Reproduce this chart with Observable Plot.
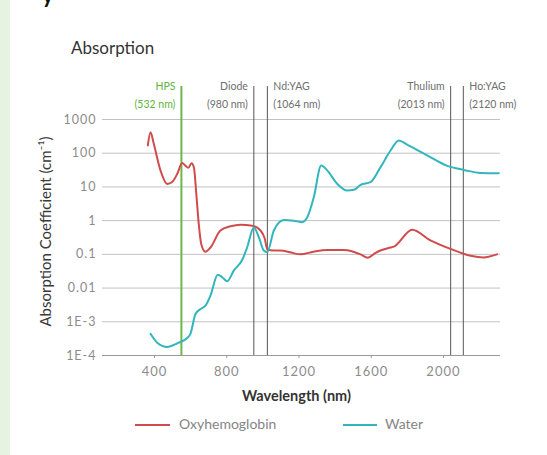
<!DOCTYPE html>
<html><head><meta charset="utf-8">
<script src="https://cdn.jsdelivr.net/npm/d3@7"></script>
<script src="https://cdn.jsdelivr.net/npm/@observablehq/plot@0.6"></script>
<style>
body{margin:0;background:#fff;font-family:Lato,"Open Sans",sans-serif;}
#wrap{position:relative;width:547px;height:455px;overflow:hidden;background:#fff;}
#strip{position:absolute;left:0;top:0;width:10px;height:455px;background:#e7f3e1;}
#cut{position:absolute;left:42px;top:-19px;font:bold 22px Lato,sans-serif;color:#111;}
#title{position:absolute;left:71px;top:37px;font-size:17px;color:#333;}
#chart{position:absolute;left:0;top:0;}
#chart svg g[aria-label="x-axis tick label"] text,
#chart svg g[aria-label="y-axis tick label"] text{letter-spacing:1px;}
.leg{position:absolute;top:415px;font-size:14px;color:#858585;line-height:18px;}
.sw{position:absolute;top:424px;height:2px;}
</style></head>
<body>
<div id="wrap">
  <div id="strip"></div>
  <div id="cut">y</div>
  <div id="title">Absorption</div>
  <div id="chart"></div>
  <div class="sw" id="sw0" style="left:135px;width:35px;"></div>
  <div class="leg" id="lg0" style="left:179px;"></div>
  <div class="sw" id="sw1" style="left:343px;width:34px;"></div>
  <div class="leg" id="lg1" style="left:385px;"></div>
</div>
<script>
// ---- data ----
const seriesNames = ["Oxyhemoglobin", "Water"];
const seriesColors = ["#d14b4d", "#31b6bc"];

const oxyNm  = [363, 378, 396, 433, 470, 498, 526, 553, 572, 587, 605, 618, 633, 645, 659, 682, 710, 765, 821, 876, 941, 987, 1010, 1025, 1060, 1098, 1150, 1208, 1280, 1356, 1448, 1541, 1581, 1624, 1651, 1707, 1725, 1827, 1928, 2039, 2150, 2223, 2297];
const oxyVal = [170, 420, 190, 31, 12.3, 14, 24.5, 51, 42, 37, 50, 38, 4.9, 0.8, 0.2, 0.12, 0.16, 0.51, 0.68, 0.76, 0.71, 0.51, 0.3, 0.14, 0.13, 0.13, 0.115, 0.1, 0.12, 0.135, 0.135, 0.1, 0.079, 0.11, 0.13, 0.16, 0.17, 0.54, 0.26, 0.145, 0.091, 0.081, 0.1];

const waterNm  = [378, 415, 470, 526, 581, 599, 627, 655, 682, 710, 750, 775, 803, 839, 886, 913, 950, 978, 1005, 1024, 1061, 1116, 1171, 1218, 1246, 1282, 1323, 1356, 1412, 1467, 1504, 1541, 1596, 1651, 1707, 1753, 1799, 1910, 2021, 2113, 2205, 2307];
const waterVal = [4.4e-4, 2.4e-4, 1.8e-4, 2.3e-4, 3.3e-4, 4.4e-4, 1.7e-3, 2.4e-3, 3.0e-3, 6e-3, 0.025, 0.021, 0.016, 0.033, 0.069, 0.16, 0.63, 0.32, 0.13, 0.115, 0.51, 1.05, 1.0, 0.9, 1.26, 4.9, 43, 31, 12.3, 7.8, 8.2, 11.5, 13.8, 38, 120, 240, 180, 86, 42, 32, 26, 25.6];

const laserNames = ["HPS", "Diode", "Nd:YAG", "Thulium", "Ho:YAG"];
const laserLabels = ["(532 nm)", "(980 nm)", "(1064 nm)", "(2013 nm)", "(2120 nm)"];
const laserDrawnNm = [549, 950, 1025, 2040, 2110];
const laserSide = ["left", "left", "right", "left", "right"];

const xTicks = [400, 800, 1200, 1600, 2000];
const yTicks = [1000, 100, 10, 1, 0.1, 0.01, 1e-3, 1e-4];
const yTickLabels = ["1000", "100", "10", "1", "0.1", "0.01", "1E-3", "1E-4"];

// ---- build ----
const oxy = oxyNm.map((x, i) => ({x, y: oxyVal[i]}));
const water = waterNm.map((x, i) => ({x, y: waterVal[i]}));
const idx = laserNames.map((_, i) => i);
const leftIdx = idx.filter(i => laserSide[i] === "left");
const rightIdx = idx.filter(i => laserSide[i] === "right");
const labelFill = i => i === 0 ? "#62b340" : "#6e6e6e";

const labelMarks = [];
for (const [set, anchor, dx] of [[leftIdx, "end", -6], [rightIdx, "start", 6]]) {
  labelMarks.push(Plot.text(set, {x: i => laserDrawnNm[i], text: i => laserNames[i], fill: labelFill, frameAnchor: "top", dy: -37, dx, textAnchor: anchor, fontSize: 10.5}));
  labelMarks.push(Plot.text(set, {x: i => laserDrawnNm[i], text: i => laserLabels[i], fill: labelFill, frameAnchor: "top", dy: -19, dx, textAnchor: anchor, fontSize: 10.5}));
}

const chart = Plot.plot({
  width: 547, height: 455,
  marginLeft: 102, marginRight: 47, marginTop: 119, marginBottom: 100,
  style: {background: "transparent", fontFamily: "Lato, 'Open Sans', sans-serif"},
  x: {domain: [112, 2316]},
  y: {type: "log", domain: [1e-4, 1000]},
  marks: [
    Plot.ruleY(yTicks, {stroke: "#c2c2c2", strokeWidth: 1}),
    Plot.ruleY([1e-4], {stroke: "#9a9a9a", strokeWidth: 1}),
    Plot.axisY({ticks: yTicks, tickFormat: d => yTickLabels[yTicks.indexOf(d)], tickSize: 0, tickPadding: 6, fontSize: 12.5, fill: "#8c8c8c", label: null}),
    Plot.axisX({ticks: xTicks, tickFormat: d => String(d), tickSize: 3, tickPadding: 8, fontSize: 13, fill: "#8c8c8c", stroke: "#9a9a9a", label: null}),
    Plot.ruleX([laserDrawnNm[0]], {stroke: "#6cb848", strokeWidth: 2, insetTop: -33}),
    Plot.ruleX(laserDrawnNm.slice(1), {stroke: "#555", strokeWidth: 1, insetTop: -33}),
    ...labelMarks,
    Plot.line(oxy, {x: "x", y: "y", stroke: seriesColors[0], strokeWidth: 2, curve: "monotone-x"}),
    Plot.line(water, {x: "x", y: "y", stroke: seriesColors[1], strokeWidth: 2, curve: "monotone-x"}),
    Plot.text(["Absorption Coefficient (cm⁻¹)"], {frameAnchor: "left", textAnchor: "middle", rotate: -90, dx: -56, dy: -6, fontSize: 15, fill: "#3a3a3a"}),
    Plot.text(["Wavelength (nm)"], {frameAnchor: "bottom", dx: -5, dy: 45, fontSize: 14.5, fontWeight: "bold", fill: "#333"})
  ]
});
document.getElementById("chart").appendChild(chart);
seriesNames.forEach((n, i) => {
  document.getElementById("lg" + i).textContent = n;
  document.getElementById("sw" + i).style.background = seriesColors[i];
});
</script>
</body></html>
